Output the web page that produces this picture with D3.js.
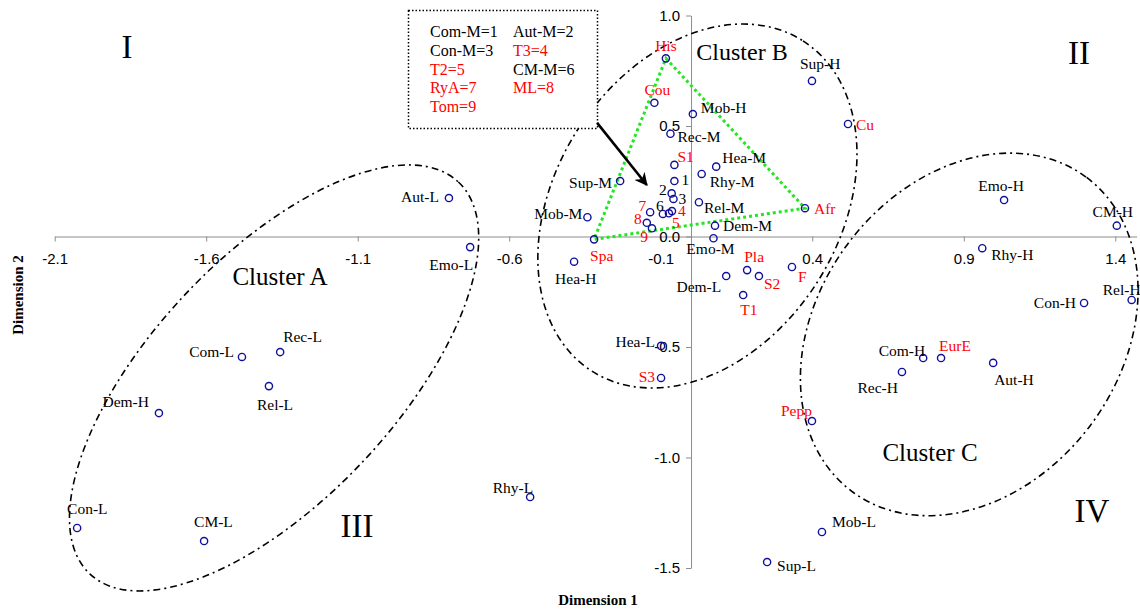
<!DOCTYPE html>
<html>
<head>
<meta charset="utf-8">
<script src="https://cdn.jsdelivr.net/npm/d3@7"></script>
<style>
  body { margin: 0; background: #fff; }
  svg { display: block; }
</style>
</head>
<body>
<div id="chart"></div>
<script>
// Data
const pointNames = [
    "Aut-L", "Emo-L", "Com-L", "Rec-L", "Rel-L", "Dem-H", "Con-L", "CM-L", "Rhy-L",
    "Hea-H", "Mob-M", "Sup-M", "Spa", "His", "Cou", "Mob-H", "Rec-M", "S1", "Hea-M",
    "Rhy-M", "1", "2", "3", "Rel-M", "4", "5", "6", "7", "8", "9", "Afr", "Dem-M",
    "Emo-M", "Sup-H", "Cu", "Dem-L", "Pla", "S2", "F", "T1", "Hea-L", "S3", "Pepp",
    "Rec-H", "Com-H", "EurE", "Aut-H", "Con-H", "Rel-H", "CM-H", "Emo-H", "Rhy-H",
    "Mob-L", "Sup-L"
];
const dim1 = [
    -0.799, -0.729, -1.482, -1.356, -1.393, -1.756, -2.026, -1.607, -0.531,
    -0.386, -0.342, -0.234, -0.320, -0.083, -0.121, 0.006, -0.068, -0.055, 0.083,
    0.035, -0.055, -0.064, -0.058, 0.026, -0.063, -0.073, -0.093, -0.135, -0.146, -0.129, 0.376, 0.079,
    0.074, 0.399, 0.518, 0.116, 0.185, 0.224, 0.333, 0.172, -0.099, -0.099, 0.399,
    0.696, 0.766, 0.825, 0.997, 1.297, 1.454, 1.405, 1.033, 0.961,
    0.432, 0.251
];
const dim2 = [
    0.174, -0.048, -0.545, -0.523, -0.677, -0.799, -1.319, -1.378, -1.179,
    -0.114, 0.087, 0.251, -0.013, 0.806, 0.605, 0.554, 0.465, 0.324, 0.316,
    0.283, 0.251, 0.195, 0.170, 0.155, 0.115, 0.105, 0.102, 0.110, 0.062, 0.037, 0.128, 0.049,
    -0.008, 0.704, 0.509, -0.179, -0.152, -0.179, -0.138, -0.265, -0.495, -0.640, -0.835,
    -0.613, -0.550, -0.550, -0.572, -0.301, -0.287, 0.049, 0.165, -0.053,
    -1.337, -1.473
];
const redNames = ["His", "Cou", "S1", "Afr", "Spa", "Cu", "Pla", "S2", "F", "T1", "S3",
    "Pepp", "EurE", "4", "5", "7", "8", "9"];
const triangleNames = ["His", "Afr", "Spa"];

const legendItems = [
    ["Com-M=1", "Aut-M=2"],
    ["Con-M=3", "T3=4"],
    ["T2=5", "CM-M=6"],
    ["RyA=7", "ML=8"],
    ["Tom=9", ""]
];
const legendRed = ["T3=4", "T2=5", "RyA=7", "ML=8", "Tom=9"];

const xTicks = [-2.1, -1.6, -1.1, -0.6, -0.1, 0.4, 0.9, 1.4];
const yTicks = [1.0, 0.5, 0.0, -0.5, -1.0, -1.5];

// cluster ellipse centres in data units
const clusterNames = ["A", "B", "C"];
const clusterX = [-1.376, 0.021, 0.918];
const clusterY = [-0.640, 0.138, -0.443];

// label placement: [anchor, dx, dy]
const labelPos = {
    "Aut-L": ["end", -10, 4], "Emo-L": ["end", 3, 23], "Com-L": ["end", -8, 0],
    "Rec-L": ["start", 3, -10], "Rel-L": ["start", -12, 24], "Dem-H": ["end", -10, -6],
    "Con-L": ["start", -10, -14], "CM-L": ["start", -10, -14], "Rhy-L": ["end", 3, -4],
    "Hea-H": ["start", -19, 22], "Mob-M": ["end", -5, 2], "Sup-M": ["end", -8, 7],
    "Spa": ["start", -4, 22], "His": ["middle", 0, -7], "Cou": ["middle", 3, -8],
    "Mob-H": ["start", 8, -1], "Rec-M": ["start", 7, 8], "S1": ["start", 3, -3],
    "Hea-M": ["start", 6, -4], "Rhy-M": ["start", 8, 13], "1": ["start", 7, 4],
    "2": ["end", -5, 2], "3": ["start", 5, 5], "Rel-M": ["start", 5, 11],
    "4": ["start", 6, 5], "5": ["start", 3, 15], "6": ["end", 1, -3],
    "7": ["end", -4, -1], "8": ["end", -5, 1], "9": ["end", -4, 14],
    "Afr": ["start", 9, 6], "Dem-M": ["start", 8, 5], "Emo-M": ["middle", -3, 16],
    "Sup-H": ["start", -12, -12], "Cu": ["start", 8, 6], "Dem-L": ["end", -5, 16],
    "Pla": ["middle", 7, -8], "S2": ["start", 5, 13], "F": ["start", 6, 15],
    "T1": ["start", -3, 20], "Hea-L": ["end", -6, 1], "S3": ["end", -6, 4],
    "Pepp": ["end", 0, -5], "Rec-H": ["end", -4, 21], "Com-H": ["end", 2, -2],
    "EurE": ["start", -2, -7], "Aut-H": ["start", 1, 22], "Con-H": ["end", -8, 5],
    "Rel-H": ["end", 9, -5], "CM-H": ["middle", -4, -9], "Emo-H": ["middle", -3, -9],
    "Rhy-H": ["start", 9, 12], "Mob-L": ["start", 10, -5], "Sup-L": ["start", 10, 9]
};

const width = 1140, height = 610;
const serif = "'Liberation Serif', 'Times New Roman', serif";
const sans = "'Liberation Sans', Arial, sans-serif";

const svg = d3.select("#chart").append("svg")
    .attr("width", width)
    .attr("height", height);

svg.append("rect").attr("width", width).attr("height", height).attr("fill", "#fff");

const x = d3.scaleLinear().domain([-2.1, 1.47]).range([54.7, 1136.5]);
const y = d3.scaleLinear().domain([1.0, -1.5]).range([15.5, 568]);

const points = pointNames.map((name, i) => ({ name, x: dim1[i], y: dim2[i], red: redNames.includes(name) }));

// Axes
const axisColor = "#8c8c8c";
svg.append("g")
    .attr("transform", `translate(0,${y(0)})`)
    .call(d3.axisBottom(x).tickValues(xTicks).tickSize(5).tickSizeOuter(0).tickPadding(12)
        .tickFormat(d => d.toFixed(1)))
    .call(g => g.selectAll(".domain, line").attr("stroke", axisColor))
    .call(g => g.selectAll("text").attr("fill", "#000").attr("font-size", 15).attr("font-family", sans));

svg.append("g")
    .attr("transform", `translate(${x(0)},0)`)
    .call(d3.axisLeft(y).tickValues(yTicks).tickSize(5).tickSizeOuter(0).tickPadding(6)
        .tickFormat(d => d.toFixed(1)))
    .call(g => g.selectAll(".domain, line").attr("stroke", axisColor))
    .call(g => g.selectAll("text").attr("fill", "#000").attr("font-size", 15).attr("font-family", sans));

svg.append("text")
    .attr("x", 598).attr("y", 605)
    .attr("text-anchor", "middle")
    .attr("font-family", serif).attr("font-weight", "bold").attr("font-size", 15)
    .text("Dimension 1");

svg.append("text")
    .attr("transform", "translate(23,295) rotate(-90)")
    .attr("text-anchor", "middle")
    .attr("font-family", serif).attr("font-weight", "bold").attr("font-size", 15)
    .text("Dimension 2");

// Cluster ellipses (radii in px, tilt in degrees)
const ellipseShape = { A: [269, 122, -46.75], B: [196, 142, -57.4], C: [196, 151.5, -53.2] };
clusterNames.forEach((c, i) => {
    const cx = x(clusterX[i]), cy = y(clusterY[i]);
    const [rx, ry, ang] = ellipseShape[c];
    svg.append("ellipse")
        .attr("cx", cx).attr("cy", cy)
        .attr("rx", rx).attr("ry", ry)
        .attr("transform", `rotate(${ang},${cx},${cy})`)
        .attr("fill", "none")
        .attr("stroke", "#000")
        .attr("stroke-width", 1.6)
        .attr("stroke-dasharray", "7,4,2,4");
});

// Green triangle
const tri = triangleNames.map(n => points.find(p => p.name === n));
svg.append("path")
    .datum(tri)
    .attr("d", d3.line().x(d => x(d.x)).y(d => y(d.y)).curve(d3.curveLinearClosed))
    .attr("fill", "none")
    .attr("stroke", "#22e622")
    .attr("stroke-width", 3)
    .attr("stroke-dasharray", "3,3");

// Legend box
const legend = svg.append("g");
legend.append("rect")
    .attr("x", 408.5).attr("y", 10.5).attr("width", 189).attr("height", 118)
    .attr("fill", "#fff")
    .attr("stroke", "#000").attr("stroke-width", 1.5)
    .attr("stroke-dasharray", "1.5,2");
legendItems.forEach((row, r) => {
    row.forEach((item, c) => {
        if (!item) return;
        legend.append("text")
            .attr("x", c === 0 ? 430 : 513)
            .attr("y", 37 + r * 18.8)
            .attr("font-family", serif).attr("font-size", 16)
            .attr("fill", legendRed.includes(item) ? "#ff0000" : "#000")
            .text(item);
    });
});

// Arrow
svg.append("defs").append("marker")
    .attr("id", "arrowhead")
    .attr("viewBox", "0 0 10 10")
    .attr("refX", 9).attr("refY", 5)
    .attr("markerWidth", 5).attr("markerHeight", 5)
    .attr("markerUnits", "strokeWidth")
    .attr("orient", "auto")
    .append("path").attr("d", "M0,0 L10,5 L0,10 L3,5 Z").attr("fill", "#000");

svg.append("line")
    .attr("x1", x(-0.310)).attr("y1", y(0.514))
    .attr("x2", x(-0.146)).attr("y2", y(0.233))
    .attr("stroke", "#000").attr("stroke-width", 2.6)
    .attr("marker-end", "url(#arrowhead)");

// Quadrant numerals and cluster titles
const bigText = [
    ["I", 127, 58, 33], ["II", 1079, 64, 33], ["III", 357, 537, 33], ["IV", 1092, 522, 33],
    ["Cluster A", 280, 285, 25], ["Cluster B", 742, 60, 24], ["Cluster C", 930, 461, 25]
];
bigText.forEach(([t, tx, ty, fs]) => {
    svg.append("text")
        .attr("x", tx).attr("y", ty)
        .attr("text-anchor", "middle")
        .attr("font-family", serif).attr("font-size", fs)
        .attr("fill", "#000")
        .text(t);
});

// Points
svg.append("g")
    .selectAll("circle")
    .data(points)
    .join("circle")
    .attr("cx", d => x(d.x))
    .attr("cy", d => y(d.y))
    .attr("r", 3.6)
    .attr("fill", "none")
    .attr("stroke", "#10109a")
    .attr("stroke-width", 1.4);

svg.append("g")
    .selectAll("text")
    .data(points)
    .join("text")
    .attr("x", d => x(d.x) + labelPos[d.name][1])
    .attr("y", d => y(d.y) + labelPos[d.name][2])
    .attr("text-anchor", d => labelPos[d.name][0])
    .attr("font-family", serif)
    .attr("font-size", 15.5)
    .attr("fill", d => d.red ? "#ff0000" : "#000")
    .text(d => d.name);
</script>
</body>
</html>
